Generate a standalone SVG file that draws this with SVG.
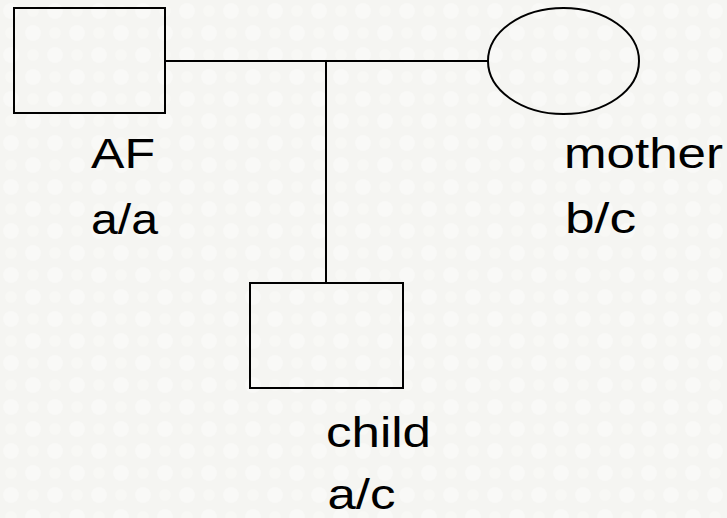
<svg xmlns="http://www.w3.org/2000/svg" width="727" height="518" viewBox="0 0 727 518">
  <style>
    .shape { fill: none; stroke: #000; stroke-width: 2; }
    .conn { fill: none; stroke: #000; stroke-width: 2; }
    .lbl { font-family: "Liberation Sans", Arial, sans-serif; font-size: 42px; fill: #000; }
  </style>
  <defs>
    <pattern id="bgdots" x="0" y="0" width="44" height="44" patternUnits="userSpaceOnUse">
      <rect width="44" height="44" fill="#f5f5f2"/>
      <circle cx="11" cy="11" r="8" fill="#f9f9f7"/>
      <circle cx="33" cy="33" r="8" fill="#f9f9f7"/>
      <circle cx="33" cy="11" r="6" fill="#f8f8f5"/>
      <circle cx="11" cy="33" r="6" fill="#f8f8f5"/>
    </pattern>
  </defs>
  <rect width="727" height="518" fill="url(#bgdots)"/>

  <g id="connectors">
    <line class="conn" x1="165" y1="61" x2="488" y2="61"/>
    <line class="conn" x1="326" y1="61" x2="326" y2="283"/>
  </g>

  <g id="AF">
    <rect class="shape" x="14" y="8" width="151" height="105"/>
    <text class="lbl" x="91" y="168" textLength="64" lengthAdjust="spacingAndGlyphs">AF</text>
    <text class="lbl" x="91" y="234" textLength="67" lengthAdjust="spacingAndGlyphs">a/a</text>
  </g>

  <g id="mother">
    <ellipse class="shape" cx="563.5" cy="61" rx="75.5" ry="53"/>
    <text class="lbl" x="564" y="168" textLength="159" lengthAdjust="spacingAndGlyphs">mother</text>
    <text class="lbl" x="565" y="233" textLength="71" lengthAdjust="spacingAndGlyphs">b/c</text>
  </g>

  <g id="child">
    <rect class="shape" x="250" y="283" width="153" height="105"/>
    <text class="lbl" x="326" y="447" textLength="105" lengthAdjust="spacingAndGlyphs">child</text>
    <text class="lbl" x="327.5" y="509" textLength="68" lengthAdjust="spacingAndGlyphs">a/c</text>
  </g>
</svg>
